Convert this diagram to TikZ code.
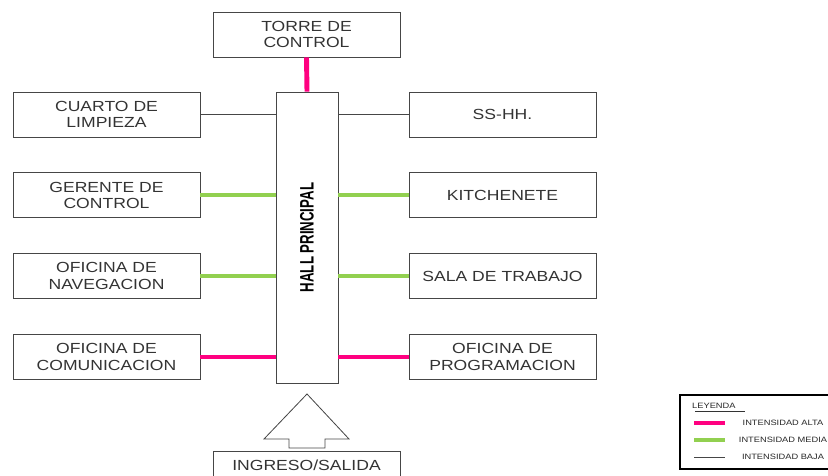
\documentclass[tikz,border=0pt]{standalone}
\usepackage{fontspec}
\usepackage{tikz}
\usetikzlibrary{
arrows.meta,
positioning,
calc
}
\newfontfamily\boxfont[FakeStretch=1.2]{Liberation Sans}
\newfontfamily\hallfont[FakeStretch=0.68]{Liberation Sans Bold}
\definecolor{alta}{RGB}{255,0,128}
\definecolor{media}{RGB}{146,208,80}
\definecolor{baja}{RGB}{70,70,70}
\definecolor{boxgray}{RGB}{70,70,70}

\begin{document}
\begin{tikzpicture}[
x=0.3mm,y=-0.3mm,
node distance=10.5mm,
box/.style={
draw=boxgray,
line width=0.7pt,
minimum width=56.1mm,
minimum height=13.5mm,
inner sep=0pt,
align=center,
text=black!80,
font=\boxfont\fontsize{12.5}{14}\selectfont
},
legtext/.style={
inner sep=0pt,
text=black!85,
font=\boxfont\fontsize{6.6}{7}\selectfont
},
alta/.style={draw=alta,line width=4.2pt},
media/.style={draw=media,line width=3.2pt},
baja/.style={draw=baja,line width=0.6pt}
]
\useasboundingbox (0,0) rectangle (828,476);
\clip (0,0) rectangle (828,476);

\node[box,minimum width=18.6mm,minimum height=87.3mm] (hall) at (307,237.5) {};
\node[rotate=90,inner sep=0pt,font=\hallfont\fontsize{16.6}{18}\selectfont] (hall-label) at (hall.center) {HALL PRINCIPAL};

\node[box] (torre) at (306.5,34.5) {TORRE DE\\CONTROL};

\node[box] (limpieza) at (106.5,114.5) {CUARTO DE\\LIMPIEZA};
\node[box,below=of limpieza] (gerente) {GERENTE DE\\CONTROL};
\node[box,below=of gerente] (navegacion) {OFICINA DE\\NAVEGACION};
\node[box,below=of navegacion] (comunicacion) {OFICINA DE\\COMUNICACION};

\node[box] (sshh) at (502.5,114.5) {SS-HH.};
\node[box,below=of sshh] (kitchenete) {KITCHENETE};
\node[box,below=of kitchenete] (sala) {SALA DE TRABAJO};
\node[box,below=of sala] (programacion) {OFICINA DE\\PROGRAMACION};

\node[box,minimum height=8.2mm] (ingreso) at (306.5,465.5) {INGRESO/SALIDA};

\draw[alta] (torre.south) -- (hall.north);
\draw[baja] (limpieza.east) -- (limpieza.east -| hall.west);
\draw[media] (gerente.east) -- (gerente.east -| hall.west);
\draw[media] (navegacion.east) -- (navegacion.east -| hall.west);
\draw[alta] (comunicacion.east) -- (comunicacion.east -| hall.west);
\draw[baja] (sshh.west) -- (sshh.west -| hall.east);
\draw[media] (kitchenete.west) -- (kitchenete.west -| hall.east);
\draw[media] (sala.west) -- (sala.west -| hall.east);
\draw[alta] (programacion.west) -- (programacion.west -| hall.east);

\draw[boxgray,line width=0.7pt,line join=miter]
(307,394) -- (349,439) -- (325,439) -- (325,448) -- (289,448)
-- (289,439) -- (264,439) -- cycle;

\draw[black,line width=1pt] (680,395) rectangle (850,469);
\node[legtext,anchor=west] (leyenda) at (692,406) {LEYENDA};
\draw[black!80,line width=0.4pt] (695,411) -- (745,411);
\draw[alta,line width=3.4pt] (694,423) -- (725,423);
\draw[media,line width=3pt] (694,440) -- (725,440);
\draw[baja,line width=0.5pt] (694,457) -- (725,457);
\node[legtext] (leg-alta) at (783,423) {INTENSIDAD ALTA};
\node[legtext] (leg-media) at (783,440) {INTENSIDAD MEDIA};
\node[legtext] (leg-baja) at (783,457) {INTENSIDAD BAJA};

\end{tikzpicture}
\end{document}
